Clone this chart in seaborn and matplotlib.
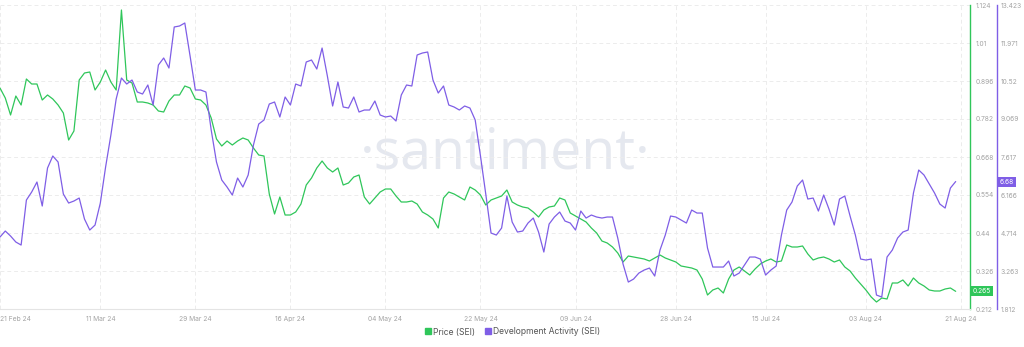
import numpy as np
import pandas as pd
import matplotlib
matplotlib.use("Agg")
import matplotlib.pyplot as plt
from matplotlib.lines import Line2D
import seaborn as sns

# ---------------- data (daily, from 21 Feb 2024) ----------------
start_date = "2024-02-21"

price = [
    0.875, 0.845, 0.794, 0.851, 0.824, 0.902, 0.887, 0.887, 0.839, 0.854,
    0.842, 0.824, 0.800, 0.719, 0.746, 0.899, 0.920, 0.923, 0.869, 0.893,
    0.929, 0.893, 0.869, 1.109, 0.899, 0.890, 0.833, 0.833, 0.830, 0.824,
    0.806, 0.803, 0.836, 0.854, 0.854, 0.881, 0.875, 0.842, 0.839, 0.824,
    0.785, 0.722, 0.701, 0.716, 0.704, 0.716, 0.725, 0.719, 0.695, 0.674,
    0.671, 0.557, 0.497, 0.548, 0.494, 0.494, 0.503, 0.527, 0.584, 0.605,
    0.635, 0.656, 0.635, 0.623, 0.635, 0.584, 0.590, 0.608, 0.614, 0.548,
    0.527, 0.545, 0.563, 0.572, 0.572, 0.551, 0.533, 0.533, 0.536, 0.527,
    0.503, 0.494, 0.482, 0.455, 0.545, 0.563, 0.557, 0.548, 0.539, 0.578,
    0.569, 0.554, 0.524, 0.539, 0.545, 0.551, 0.569, 0.533, 0.524, 0.518,
    0.515, 0.503, 0.488, 0.509, 0.518, 0.521, 0.545, 0.539, 0.500, 0.491,
    0.482, 0.473, 0.455, 0.440, 0.416, 0.410, 0.398, 0.380, 0.353, 0.371,
    0.368, 0.365, 0.362, 0.356, 0.365, 0.374, 0.365, 0.359, 0.353, 0.341,
    0.338, 0.335, 0.329, 0.302, 0.254, 0.269, 0.275, 0.260, 0.302, 0.329,
    0.338, 0.326, 0.314, 0.332, 0.347, 0.356, 0.362, 0.353, 0.356, 0.404,
    0.398, 0.398, 0.401, 0.377, 0.359, 0.365, 0.368, 0.362, 0.353, 0.359,
    0.338, 0.326, 0.305, 0.287, 0.269, 0.248, 0.233, 0.245, 0.242, 0.290,
    0.290, 0.299, 0.281, 0.305, 0.290, 0.281, 0.269, 0.266, 0.266, 0.272,
    0.275, 0.265,
]

dev_activity = [
    4.561, 4.790, 4.599, 4.370, 4.255, 5.974, 6.280, 6.662, 5.745, 7.196,
    7.655, 7.426, 6.203, 5.859, 5.936, 6.050, 5.248, 4.828, 5.019, 5.859,
    7.235, 8.457, 9.832, 10.634, 10.405, 10.558, 10.100, 10.023, 10.367, 9.603,
    11.131, 11.398, 11.016, 12.583, 12.621, 12.735, 11.475, 10.176, 10.176, 10.100,
    8.648, 7.426, 6.738, 6.471, 6.165, 6.814, 6.471, 6.929, 8.075, 8.877,
    9.030, 9.641, 9.718, 9.145, 9.909, 9.603, 10.405, 10.329, 11.246, 11.322,
    10.978, 11.780, 10.711, 9.565, 10.482, 9.527, 9.488, 9.909, 9.336, 9.412,
    9.412, 9.756, 9.221, 9.145, 9.183, 8.992, 9.985, 10.367, 10.329, 11.513,
    11.589, 11.628, 10.558, 10.061, 10.329, 9.603, 9.527, 9.412, 9.565, 9.488,
    9.030, 7.655, 6.203, 4.713, 4.637, 4.904, 6.127, 5.134, 4.752, 4.790,
    5.095, 5.286, 4.752, 3.988, 5.057, 5.325, 5.516, 5.172, 5.095, 4.828,
    5.554, 5.286, 5.401, 5.325, 5.286, 5.325, 5.325, 4.522, 3.529, 2.842,
    2.956, 3.185, 3.300, 3.376, 3.071, 4.064, 4.637, 5.363, 5.325, 5.210,
    5.095, 5.592, 5.477, 5.477, 4.140, 3.415, 3.415, 3.415, 3.644, 3.071,
    3.185, 3.491, 3.797, 3.797, 3.720, 3.109, 3.300, 3.453, 4.637, 5.592,
    5.898, 6.509, 6.738, 6.012, 6.050, 5.554, 6.165, 5.630, 5.019, 6.012,
    6.127, 5.363, 4.637, 3.720, 3.682, 3.720, 2.345, 2.269, 3.797, 4.064,
    4.522, 4.752, 4.828, 6.241, 7.120, 6.929, 6.585, 6.241, 5.821, 5.668,
    6.432, 6.680,
]

price_ticks = [1.124, 1.01, 0.896, 0.782, 0.668, 0.554, 0.44, 0.326, 0.212]
price_tick_labels = ["1.124", "1.01", "0.896", "0.782", "0.668", "0.554", "0.44", "0.326", "0.212"]
dev_ticks = [13.423, 11.971, 10.52, 9.069, 7.617, 6.166, 4.714, 3.263, 1.812]
dev_tick_labels = ["13.423", "11.971", "10.52", "9.069", "7.617", "6.166", "4.714", "3.263", "1.812"]

date_ticks = ["2024-02-21", "2024-03-11", "2024-03-29", "2024-04-16", "2024-05-04",
              "2024-05-22", "2024-06-09", "2024-06-28", "2024-07-15", "2024-08-03", "2024-08-21"]
date_tick_labels = ["21 Feb 24", "11 Mar 24", "29 Mar 24", "16 Apr 24", "04 May 24",
                    "22 May 24", "09 Jun 24", "28 Jun 24", "15 Jul 24", "03 Aug 24", "21 Aug 24"]

series_names = ["Price (SEI)", "Development Activity (SEI)"]
last_price_label = "0.265"
last_dev_label = "6.68"

# ---------------- styling ----------------
GREEN = "#2fc65a"
PURPLE = "#7f5ee6"
TICK_C = "#a3a3a3"
GRID_C = "#ececec"

sns.set_style("white")
plt.rcParams["font.family"] = ["Inter", "DejaVu Sans"]

df = pd.DataFrame({
    "date": pd.date_range(start_date, periods=len(price), freq="D"),
    "price": price,
    "dev": dev_activity,
})

fig = plt.figure(figsize=(10.24, 3.47), dpi=100)
ax = fig.add_axes([0.0, 38 / 347, 970 / 1024, 304 / 347])
ax.patch.set_visible(False)

sns.lineplot(data=df, x="date", y="price", ax=ax, color=GREEN, linewidth=0.9)
ax2 = ax.twinx()
ax2.patch.set_visible(False)
sns.lineplot(data=df, x="date", y="dev", ax=ax2, color=PURPLE, linewidth=0.9)

t0 = pd.Timestamp(start_date)
ax.set_xlim(t0, t0 + pd.Timedelta(days=970 / 5.28))
ax.set_ylim(price_ticks[-1], price_ticks[0])
ax2.set_ylim(dev_ticks[-1], dev_ticks[0])

# x axis
ax.set_xticks(pd.to_datetime(date_ticks))
ax.set_xticklabels(date_tick_labels)
ax.tick_params(axis="x", length=0, pad=5, labelsize=4.8, labelcolor=TICK_C)
xl = ax.get_xticklabels()
xl[0].set_ha("left")

# price axis on the right
ax.yaxis.tick_right()
ax.set_yticks(price_ticks)
ax.set_yticklabels(price_tick_labels)
ax.tick_params(axis="y", length=0, pad=4, labelsize=4.8, labelcolor=TICK_C)

ax2.set_yticks(dev_ticks)
ax2.set_yticklabels(dev_tick_labels)
ax2.tick_params(axis="y", length=0, pad=2.5, labelsize=4.8, labelcolor=TICK_C)

for a in (ax, ax2):
    a.set_xlabel("")
    a.set_ylabel("")

ax.grid(True, axis="both", color=GRID_C, linestyle=(0, (4, 3)), linewidth=0.7)
ax2.grid(False)
ax.set_axisbelow(True)

for s in ("top", "left"):
    ax.spines[s].set_visible(False)
ax.spines["bottom"].set_color("#e4e4e4")
ax.spines["bottom"].set_linewidth(0.8)
ax.spines["right"].set_color(GREEN)
ax.spines["right"].set_linewidth(1.0)

for s in ("top", "left", "bottom"):
    ax2.spines[s].set_visible(False)
ax2.spines["right"].set_position(("outward", 19.5))
ax2.spines["right"].set_color(PURPLE)
ax2.spines["right"].set_linewidth(1.0)

# last value tags
ax.text(1.003, price[-1], last_price_label, transform=ax.get_yaxis_transform(),
        ha="left", va="center", fontsize=4.8, color="white", clip_on=False,
        bbox=dict(boxstyle="square,pad=0.3", fc=GREEN, ec="none"))
ax2.text(1.031, dev_activity[-1], last_dev_label, transform=ax2.get_yaxis_transform(),
         ha="left", va="center", fontsize=4.8, color="white", clip_on=False,
         bbox=dict(boxstyle="square,pad=0.3", fc=PURPLE, ec="none"))

# watermark
fig.text(505 / 1024, 1 - 168 / 347, "\u00b7santiment\u00b7", ha="center", va="baseline",
         fontsize=40, color="#e5e8ef", family="Open Sans", zorder=-5)

# legend
handles = [
    Line2D([], [], marker="s", linestyle="", color=GREEN, markersize=4.5, label=series_names[0]),
    Line2D([], [], marker="s", linestyle="", color=PURPLE, markersize=4.5, label=series_names[1]),
]
fig.legend(handles=handles, loc="center", bbox_to_anchor=(0.5, 1 - 332 / 347), ncol=2,
           frameon=False, fontsize=6.2, handletextpad=0.1, columnspacing=1.0,
           labelcolor="#555555", handlelength=1.0)

fig.savefig("out.png", dpi=100, facecolor="white")
